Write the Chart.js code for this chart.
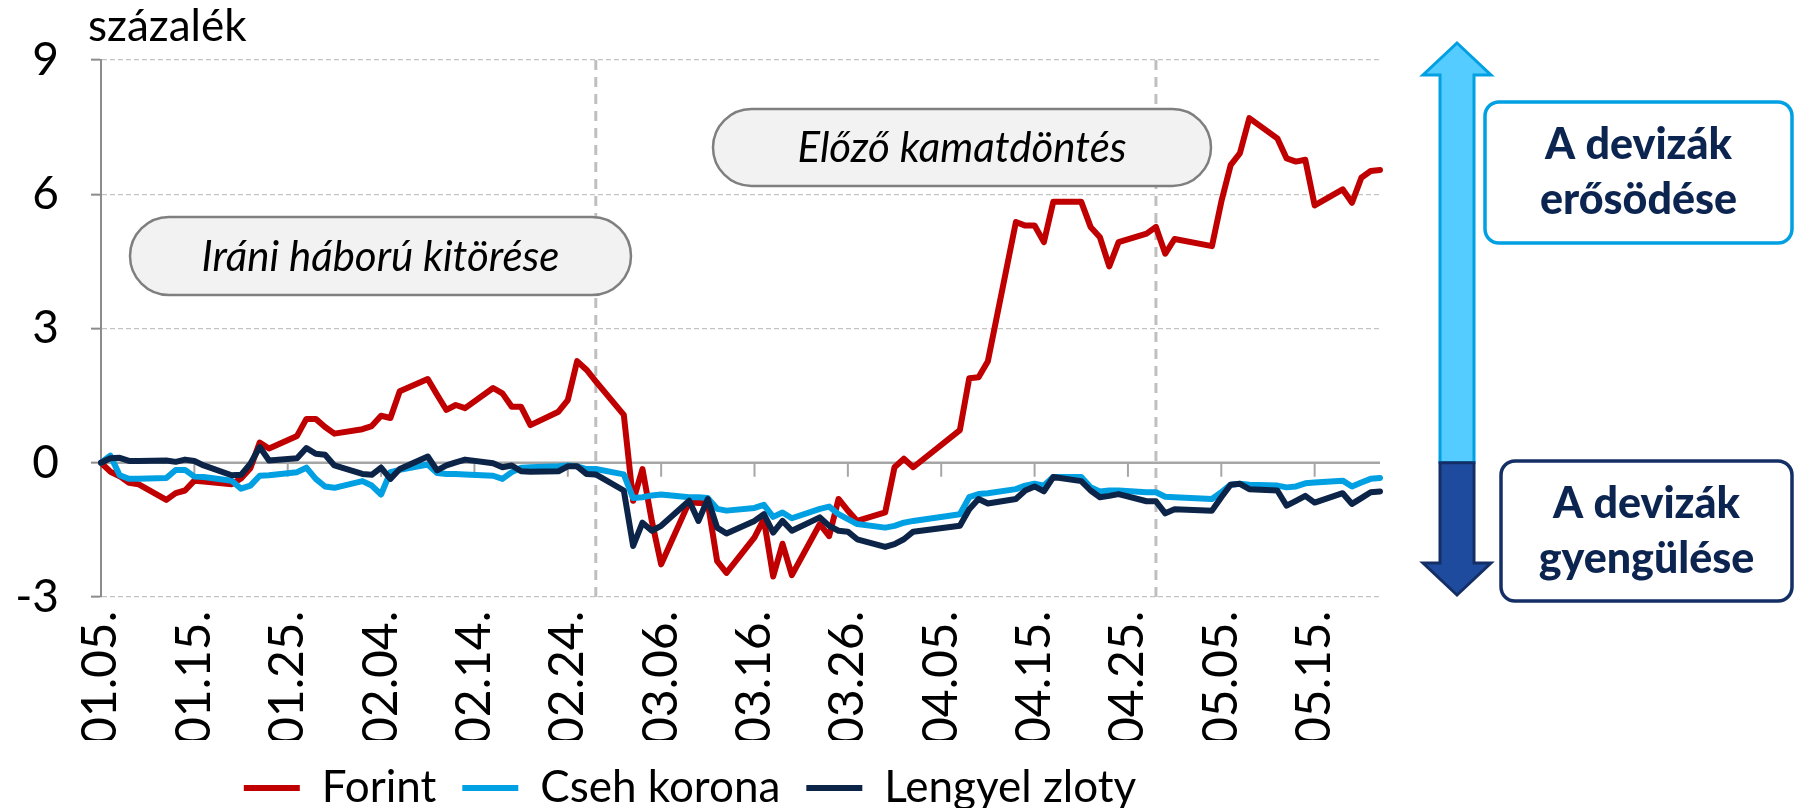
<!DOCTYPE html>
<html>
<head>
<meta charset="utf-8">
<script src="https://cdn.jsdelivr.net/npm/chart.js@4.4.1/dist/chart.umd.min.js"></script>
<style>
  html, body { margin: 0; padding: 0; background: #fff; }
  #wrap { width: 1795px; height: 808px; }
</style>
</head>
<body>
<div id="wrap"><canvas id="fxChart"></canvas></div>
<script>
// Calendar axis starts on Monday 2026-01-05, one label per day
const startDate = new Date(2026, 0, 5);
const dayCount = 138;

// One value per weekday (Mon..Fri, 5 per row), null = holiday
const forint = [
  0, -0.2, -0.3, -0.45, -0.48,
  -0.83, -0.68, -0.62, -0.4, -0.42,
  -0.48, -0.35, -0.12, 0.45, 0.32,
  0.6, 0.98, 0.98, 0.8, 0.65,
  0.75, 0.82, 1.05, 1.0, 1.6,
  1.87, 1.52, 1.18, 1.29, 1.22,
  1.67, 1.55, 1.25, 1.25, 0.84,
  1.14, 1.4, 2.27, 2.08, 1.82,
  1.07, -0.85, -0.14, -1.3, -2.27,
  -0.88, -0.9, -0.9, -2.2, -2.46,
  -1.67, -1.26, -2.54, -1.81, -2.51,
  -1.37, -1.64, -0.81, -1.07, -1.3,
  -1.11, -0.1, 0.09, -0.1, null,
  null, 0.73, 1.89, 1.91, 2.27,
  5.38, 5.3, 5.3, 4.93, 5.83,
  5.83, 5.27, 5.04, 4.39, 4.93,
  5.12, 5.27, 4.67, 5.0, null,
  4.84, 5.83, 6.65, 6.92, 7.7,
  7.25, 6.8, 6.73, 6.77, 5.75,
  6.11, 5.81, 6.37, 6.52, 6.54
];
const csehKorona = [
  0, 0.16, -0.28, -0.36, -0.36,
  -0.34, -0.16, -0.16, -0.31, -0.32,
  -0.4, -0.58, -0.51, -0.29, -0.28,
  -0.21, -0.11, -0.36, -0.53, -0.56,
  -0.41, -0.51, -0.71, -0.21, -0.16,
  -0.04, -0.23, -0.25, -0.25, -0.26,
  -0.29, -0.36, -0.21, -0.11, -0.1,
  -0.08, -0.06, -0.08, -0.14, -0.14,
  -0.26, -0.79, -0.77, -0.73, -0.71,
  -0.77, -0.77, -0.79, -1.03, -1.07,
  -1.01, -0.94, -1.21, -1.11, -1.24,
  -1.03, -0.98, -1.15, -1.26, -1.37,
  -1.45, -1.41, -1.34, -1.3, null,
  null, -1.15, -0.77, -0.7, -0.68,
  -0.59, -0.51, -0.47, -0.51, -0.32,
  -0.32, -0.55, -0.64, -0.62, -0.62,
  -0.66, -0.66, -0.76, -0.77, null,
  -0.81, -0.66, -0.49, -0.47, -0.49,
  -0.51, -0.55, -0.53, -0.46, -0.44,
  -0.4, -0.53, -0.44, -0.36, -0.34
];
const lengyelZloty = [
  0, 0.1, 0.11, 0.04, 0.04,
  0.05, 0.02, 0.07, 0.04, -0.06,
  -0.28, -0.27, -0.02, 0.35, 0.05,
  0.1, 0.33, 0.2, 0.18, -0.06,
  -0.25, -0.27, -0.11, -0.36, -0.14,
  0.14, -0.17, -0.06, 0.01, 0.07,
  -0.01, -0.1, -0.06, -0.19, -0.2,
  -0.19, -0.08, -0.08, -0.25, -0.26,
  -0.62, -1.86, -1.34, -1.52, -1.41,
  -0.85, -1.3, -0.81, -1.45, -1.58,
  -1.3, -1.15, -1.56, -1.3, -1.52,
  -1.22, -1.41, -1.52, -1.54, -1.71,
  -1.88, -1.82, -1.71, -1.54, null,
  null, -1.41, -1.04, -0.81, -0.91,
  -0.81, -0.62, -0.53, -0.64, -0.32,
  -0.41, -0.62, -0.77, -0.74, -0.7,
  -0.86, -0.86, -1.13, -1.04, null,
  -1.07, -0.77, -0.49, -0.47, -0.59,
  -0.62, -0.96, -0.85, -0.74, -0.89,
  -0.68, -0.92, -0.79, -0.66, -0.64
];

const seriesNames = ['Forint', 'Cseh korona', 'Lengyel zloty'];
const yMin = -3, yMax = 9, yStep = 3;
const eventDays = ['02.27.', '04.28.'];
const eventTexts = ['Iráni háború kitörése', 'Előző kamatdöntés'];

// daily labels "MM.DD."
const dates = [];
for (let i = 0; i < dayCount; i++) {
  const d = new Date(startDate.getFullYear(), startDate.getMonth(), startDate.getDate() + i);
  dates.push(String(d.getMonth() + 1).padStart(2, '0') + '.' + String(d.getDate()).padStart(2, '0') + '.');
}

// spread weekday values over the calendar, weekends empty
function toCalendar(values) {
  const out = [];
  let k = 0;
  for (let i = 0; i < dayCount; i++) {
    const wd = (startDate.getDay() + i) % 7;
    if (wd === 0 || wd === 6) out.push(null);
    else out.push(values[k++]);
  }
  return out;
}

function pillPath(ctx, x, y, w, h, r) {
  ctx.beginPath();
  ctx.moveTo(x + r, y);
  ctx.lineTo(x + w - r, y);
  ctx.arcTo(x + w, y, x + w, y + r, r);
  ctx.lineTo(x + w, y + h - r);
  ctx.arcTo(x + w, y + h, x + w - r, y + h, r);
  ctx.lineTo(x + r, y + h);
  ctx.arcTo(x, y + h, x, y + h - r, r);
  ctx.lineTo(x, y + r);
  ctx.arcTo(x, y, x + r, y, r);
  ctx.closePath();
}

const extras = {
  id: 'extras',
  beforeDatasetsDraw(chart) {
    const {ctx, chartArea: a, scales: {x, y}} = chart;
    const y0 = y.getPixelForValue(0);
    ctx.save();
    // event lines
    ctx.strokeStyle = '#BFBFBF';
    ctx.lineWidth = 3;
    ctx.setLineDash([10, 7]);
    eventDays.forEach(d => {
      const px = x.getPixelForValue(dates.indexOf(d));
      ctx.beginPath(); ctx.moveTo(px, a.top); ctx.lineTo(px, a.bottom); ctx.stroke();
    });
    // horizontal axis at zero with tick marks
    ctx.setLineDash([]);
    ctx.strokeStyle = '#A6A6A6';
    ctx.lineWidth = 2.5;
    ctx.beginPath(); ctx.moveTo(a.left, y0); ctx.lineTo(a.right, y0); ctx.stroke();
    ctx.lineWidth = 2;
    for (let i = 10; i < dates.length; i += 10) {
      const px = x.getPixelForValue(i);
      ctx.beginPath(); ctx.moveTo(px, y0); ctx.lineTo(px, y0 + 14); ctx.stroke();
    }
    ctx.restore();
  },
  afterDraw(chart) {
    const {ctx, chartArea: a, scales: {y}} = chart;
    const y0 = y.getPixelForValue(0);
    ctx.save();

    // unit label
    ctx.fillStyle = '#000';
    ctx.font = '44px Lato';
    ctx.textAlign = 'left';
    ctx.textBaseline = 'alphabetic';
    ctx.fillText('százalék', 88, 41);

    // event boxes
    const pills = [[130, 217, 501, 78], [713, 109, 498, 77]];
    pills.forEach((p, i) => {
      pillPath(ctx, p[0], p[1], p[2], p[3], p[3] / 2);
      ctx.fillStyle = '#F2F2F2';
      ctx.fill();
      ctx.strokeStyle = '#7F7F7F';
      ctx.lineWidth = 2.5;
      ctx.stroke();
      ctx.fillStyle = '#000';
      ctx.font = 'italic 42px Lato';
      ctx.textAlign = 'center';
      ctx.textBaseline = 'middle';
      ctx.fillText(eventTexts[i], p[0] + p[2] / 2, p[1] + p[3] / 2 + 1);
    });

    // double arrow
    const cx = a.right + 77, sw = 17, hw = 34;
    const tipTop = 43, baseTop = 75, baseBot = 563, tipBot = 595;
    ctx.lineJoin = 'miter';
    ctx.lineWidth = 3;
    ctx.beginPath();
    ctx.moveTo(cx, tipTop);
    ctx.lineTo(cx + hw, baseTop); ctx.lineTo(cx + sw, baseTop);
    ctx.lineTo(cx + sw, y0); ctx.lineTo(cx - sw, y0);
    ctx.lineTo(cx - sw, baseTop); ctx.lineTo(cx - hw, baseTop);
    ctx.closePath();
    ctx.fillStyle = '#55CCFF'; ctx.fill();
    ctx.strokeStyle = '#00A0E3'; ctx.stroke();
    ctx.beginPath();
    ctx.moveTo(cx - sw, y0); ctx.lineTo(cx + sw, y0);
    ctx.lineTo(cx + sw, baseBot); ctx.lineTo(cx + hw, baseBot);
    ctx.lineTo(cx, tipBot);
    ctx.lineTo(cx - hw, baseBot); ctx.lineTo(cx - sw, baseBot);
    ctx.closePath();
    ctx.fillStyle = '#1E4B9E'; ctx.fill();
    ctx.strokeStyle = '#142F66'; ctx.stroke();

    // side boxes
    const boxes = [
      {x: 1485, y: 102, h: 141, color: '#00A0E3', lines: ['A devizák', 'erősödése']},
      {x: 1501, y: 461, h: 140, color: '#142F66', lines: ['A devizák', 'gyengülése']}
    ];
    boxes.forEach(b => {
      const w = chart.width - 3 - b.x;
      pillPath(ctx, b.x, b.y, w, b.h, 14);
      ctx.fillStyle = '#fff'; ctx.fill();
      ctx.strokeStyle = b.color; ctx.lineWidth = 3.5; ctx.stroke();
      ctx.fillStyle = '#0C2450';
      ctx.font = '900 43px Lato';
      ctx.textAlign = 'center';
      ctx.textBaseline = 'middle';
      ctx.fillText(b.lines[0], b.x + w / 2, b.y + b.h / 2 - 27);
      ctx.fillText(b.lines[1], b.x + w / 2, b.y + b.h / 2 + 28);
    });
    ctx.restore();
  }
};

Chart.defaults.font.family = 'Lato';
Chart.defaults.font.size = 44;
Chart.defaults.color = '#000';

const colors = ['#C00000', '#00A0E3', '#0D2449'];
const values = [forint, csehKorona, lengyelZloty];

new Chart(document.getElementById('fxChart'), {
  type: 'line',
  data: {
    labels: dates,
    datasets: values.map((v, i) => ({
      label: seriesNames[i],
      data: toCalendar(v),
      borderColor: colors[i],
      backgroundColor: colors[i],
      borderWidth: 6,
      borderCapStyle: 'round',
      borderJoinStyle: 'round',
      pointRadius: 0,
      tension: 0,
      spanGaps: true,
      order: 3 - i
    }))
  },
  options: {
    responsive: true,
    maintainAspectRatio: false,
    animation: false,
    layout: { padding: { left: 0, right: 415, top: 60, bottom: -12 } },
    plugins: {
      tooltip: { enabled: false },
      legend: {
        position: 'bottom',
        labels: {
          usePointStyle: true,
          pointStyle: 'line',
          pointStyleWidth: 56,
          boxHeight: 44,
          padding: 26,
          sort: (a, b) => a.datasetIndex - b.datasetIndex
        }
      }
    },
    scales: {
      x: {
        grid: { display: false, drawTicks: false },
        border: { display: false },
        ticks: {
          autoSkip: false,
          maxRotation: 90,
          minRotation: 90,
          padding: 14,
          font: { size: 48 },
          callback: function (val, index) {
            return index % 10 === 0 ? this.getLabelForValue(val) : null;
          }
        },
        afterFit: (s) => { s.height = 143; }
      },
      y: {
        min: yMin,
        max: yMax,
        ticks: { stepSize: yStep, padding: 32, font: { size: 46 } },
        grid: {
          color: (c) => c.tick && c.tick.value === 0 ? 'rgba(0,0,0,0)' : '#C4C4C4',
          lineWidth: 1.3,
          tickLength: 10,
          tickColor: '#8C8C8C',
          tickWidth: 2
        },
        border: {
          color: '#8C8C8C',
          width: 2,
          dash: (c) => [5, 3]
        },
        afterFit: (s) => { s.width = 101; }
      }
    }
  },
  plugins: [extras]
});
</script>
</body>
</html>
